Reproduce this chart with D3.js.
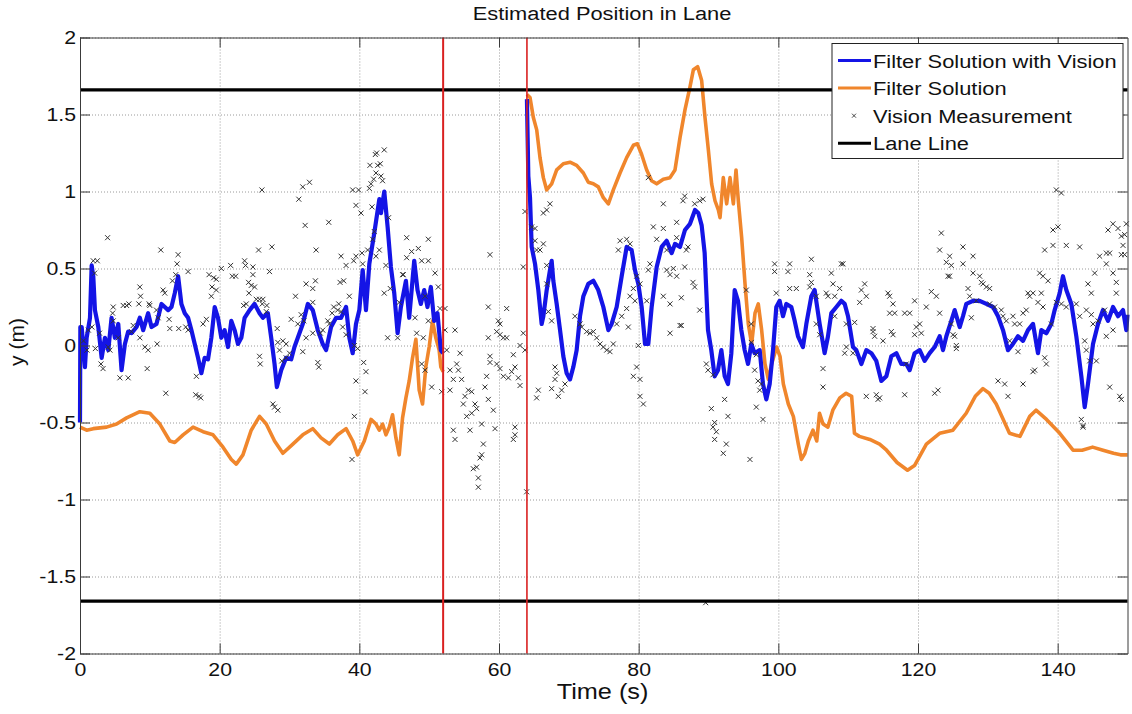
<!DOCTYPE html>
<html>
<head>
<meta charset="utf-8">
<script src="https://cdn.jsdelivr.net/npm/d3@7"></script>
<style>
  body { margin: 0; background: #fff; }
  text { font-family: "Liberation Sans", Arial, sans-serif; fill: #111; }
  .grid line { stroke: #9a9a9a; stroke-dasharray: 1,2; }
  .grid path { display: none; }
  .axis path, .axis line { stroke: #3a3a3a; }
</style>
</head>
<body>
<svg width="1132" height="714"></svg>
<script>
// ---- data: [time (s), y (m)] ----
var xTicks = [0, 20, 40, 60, 80, 100, 120, 140];
var yTicks = [-2, -1.5, -1, -0.5, 0, 0.5, 1, 1.5, 2];
var laneLines = [1.66, -1.66];
var outageTimes = [52, 64];
var legendLabels = ["Filter Solution with Vision", "Filter Solution", "Vision Measurement", "Lane Line"];

var blueSeg1 = [[0,-0.5],[0.05,0.12],[0.24,0.12],[0.71,-0.14],[0.95,0.05],[1.43,0.18],[1.67,0.52],[1.9,0.45],[2.14,0.23],[2.62,0.12],[3.1,-0.08],[3.57,0.05],[4.05,-0.03],[4.52,0.18],[5.0,0.05],[5.48,0.14],[5.95,-0.16],[6.43,0.01],[6.9,0.09],[7.38,0.08],[8.1,0.12],[8.57,0.18],[9.05,0.10],[9.76,0.21],[10.24,0.12],[10.95,0.14],[11.67,0.27],[12.14,0.25],[12.62,0.23],[13.1,0.25],[13.57,0.34],[14.05,0.45],[14.52,0.27],[15.0,0.21],[15.48,0.18],[15.95,0.10],[16.43,0.01],[16.9,-0.08],[17.38,-0.18],[17.86,-0.08],[18.33,-0.09],[18.81,0.05],[19.29,0.25],[19.76,0.18],[20.24,0.05],[20.71,0.10],[21.19,-0.01],[21.67,0.16],[22.14,0.10],[22.62,0.01],[23.1,0.05],[23.57,0.18],[24.29,0.23],[25.0,0.27],[25.71,0.21],[26.19,0.18],[26.9,0.21],[27.38,0.05],[27.86,-0.12],[28.19,-0.27],[28.81,-0.16],[29.52,-0.08],[30.24,-0.09],[30.71,-0.01],[31.19,0.05],[31.9,0.14],[32.62,0.27],[33.33,0.23],[34.05,0.10],[34.76,0.01],[35.24,-0.03],[35.95,0.12],[36.67,0.18],[37.38,0.18],[38.1,0.25],[38.57,0.05],[39.05,-0.05],[39.52,0.14],[40.0,0.23],[40.48,0.49],[40.95,0.23],[41.43,0.53],[42.14,0.73],[42.86,0.95],[43.1,0.86],[43.57,1.0],[44.05,0.77],[44.52,0.51],[45.0,0.34],[45.48,0.08],[45.95,0.25],[46.67,0.42],[47.14,0.18],[47.86,0.55],[48.33,0.36],[48.81,0.27],[49.29,0.36],[49.76,0.25],[50.24,0.38],[50.71,0.16],[51.19,0.21],[51.67,-0.03],[52.0,-0.05]];

var blueSeg2 = [[64.0,1.6],[64.1,1.35],[64.2,1.1],[64.44,0.96],[64.68,0.64],[65.16,0.53],[65.63,0.36],[66.11,0.14],[66.35,0.19],[66.83,0.36],[67.3,0.49],[67.54,0.55],[67.78,0.42],[68.26,0.27],[68.74,0.10],[69.21,-0.07],[69.69,-0.18],[70.17,-0.22],[70.64,-0.14],[71.12,-0.03],[71.6,0.19],[72.08,0.32],[72.79,0.40],[73.51,0.42],[74.22,0.36],[74.94,0.25],[75.66,0.10],[76.13,0.14],[76.85,0.25],[77.57,0.45],[78.28,0.64],[78.99,0.62],[79.47,0.49],[79.95,0.40],[80.43,0.25],[80.91,0.01],[81.38,0.01],[81.86,0.25],[82.58,0.51],[83.29,0.64],[84.01,0.68],[84.73,0.60],[85.2,0.66],[85.92,0.64],[86.63,0.75],[87.35,0.79],[88.07,0.88],[88.54,0.86],[89.02,0.78],[89.45,0.6],[89.93,0.10],[90.4,-0.03],[90.88,-0.20],[91.36,-0.16],[91.84,-0.03],[92.32,-0.20],[92.79,-0.25],[93.27,-0.05],[93.75,0.36],[94.22,0.29],[94.7,0.10],[95.18,-0.03],[95.66,-0.12],[96.13,0.01],[96.61,-0.05],[97.33,-0.03],[97.8,-0.25],[98.28,-0.35],[98.76,-0.25],[99.24,-0.03],[99.71,0.25],[100.19,0.29],[100.67,0.19],[101.15,0.27],[101.86,0.25],[102.34,0.16],[102.82,0.06],[103.53,-0.01],[104.01,0.14],[104.73,0.32],[105.2,0.36],[105.92,0.14],[106.63,-0.05],[107.11,0.06],[107.59,0.21],[108.31,0.25],[109.02,0.29],[109.5,0.27],[109.98,0.19],[110.69,-0.01],[111.17,-0.03],[111.89,-0.12],[112.6,-0.03],[113.32,-0.05],[114.03,-0.10],[114.75,-0.23],[115.47,-0.20],[116.18,-0.07],[116.9,-0.05],[117.61,-0.12],[118.33,-0.12],[118.81,-0.16],[119.52,-0.05],[120.24,-0.03],[120.95,-0.10],[121.67,-0.05],[122.39,-0.01],[123.1,0.06],[123.58,-0.03],[124.06,0.06],[124.77,0.16],[125.25,0.23],[125.97,0.12],[126.44,0.19],[126.92,0.27],[127.88,0.29],[128.83,0.29],[129.79,0.27],[130.74,0.25],[131.46,0.19],[132.17,0.10],[132.89,-0.03],[133.6,0.01],[134.32,0.06],[135.04,0.03],[135.75,0.10],[136.47,0.14],[137.18,-0.05],[137.66,0.10],[138.38,0.08],[139.09,0.14],[139.57,0.23],[140.29,0.34],[140.76,0.45],[141.24,0.36],[141.96,0.27],[142.67,0.06],[143.39,-0.20],[143.87,-0.40],[144.34,-0.25],[145.06,0.01],[145.78,0.14],[146.49,0.23],[147.21,0.16],[147.93,0.25],[148.65,0.19],[149.36,0.23],[149.83,0.10],[150,0.2]];

var orangeSeg1 = [[0,-0.53],[0.95,-0.55],[1.9,-0.54],[3.81,-0.53],[5.24,-0.51],[6.67,-0.47],[8.57,-0.43],[10,-0.44],[11.43,-0.51],[12.86,-0.62],[13.57,-0.63],[14.76,-0.58],[16.19,-0.53],[17.62,-0.56],[19.05,-0.58],[20.48,-0.66],[21.67,-0.74],[22.38,-0.77],[23.33,-0.71],[24.52,-0.55],[25.71,-0.46],[26.67,-0.51],[27.86,-0.62],[29.05,-0.70],[30.48,-0.64],[31.9,-0.58],[33.33,-0.54],[34.52,-0.60],[35.71,-0.64],[36.9,-0.58],[38.1,-0.54],[39.05,-0.62],[39.76,-0.71],[40.71,-0.62],[41.67,-0.48],[42.38,-0.51],[42.86,-0.55],[43.33,-0.51],[43.81,-0.58],[44.29,-0.53],[44.76,-0.45],[45.24,-0.60],[45.71,-0.71],[46.19,-0.47],[46.67,-0.34],[47.14,-0.23],[47.62,-0.08],[48.1,0.04],[48.57,-0.29],[49.05,-0.38],[49.52,-0.14],[50,-0.01],[50.48,0.16],[50.95,0.05],[51.43,-0.03],[51.67,-0.14],[52,-0.17]];

var orangeSeg2 = [[64.0,1.63],[64.44,1.61],[64.92,1.48],[65.4,1.40],[65.87,1.22],[66.35,1.09],[66.83,1.01],[67.54,1.05],[68.26,1.14],[69.21,1.18],[70.17,1.19],[71.12,1.17],[72.08,1.12],[72.79,1.06],[73.51,1.05],[74.22,1.03],[74.94,0.96],[75.66,0.92],[76.37,1.01],[77.33,1.12],[78.28,1.22],[79.24,1.30],[79.81,1.31],[80.43,1.24],[81.15,1.14],[81.86,1.07],[82.58,1.05],[83.53,1.08],[84.49,1.09],[85.2,1.14],[85.92,1.35],[86.63,1.53],[87.35,1.68],[87.83,1.79],[88.45,1.81],[89.02,1.72],[89.5,1.48],[89.98,1.27],[90.45,1.05],[90.93,0.94],[91.41,0.88],[91.65,0.83],[92.12,1.09],[92.6,0.92],[93.08,1.09],[93.56,0.92],[93.94,1.14],[94.27,0.94],[94.75,0.70],[95.23,0.40],[95.7,0.14],[96.18,0.01],[96.66,0.21],[97.13,0.27],[97.61,0.10],[98.09,-0.12],[98.57,-0.22],[99.04,-0.12],[99.76,-0.01],[100.24,-0.07],[100.72,-0.25],[101.43,-0.38],[102.15,-0.46],[102.86,-0.64],[103.3,-0.74],[103.8,-0.70],[104.3,-0.62],[104.96,-0.55],[105.5,-0.62],[105.9,-0.44],[106.4,-0.51],[107.1,-0.53],[107.8,-0.42],[108.8,-0.34],[109.7,-0.31],[110.5,-0.33],[110.9,-0.57],[111.6,-0.59],[113.1,-0.61],[114.5,-0.64],[115.5,-0.68],[117,-0.76],[118.5,-0.81],[119.5,-0.78],[121.2,-0.64],[123.1,-0.57],[125,-0.55],[126.9,-0.44],[128.2,-0.33],[129.3,-0.28],[130.2,-0.31],[131.2,-0.38],[133.1,-0.57],[134.6,-0.59],[136,-0.46],[136.9,-0.42],[138.4,-0.48],[140.3,-0.57],[142.2,-0.68],[143.5,-0.68],[145,-0.66],[146.5,-0.68],[148,-0.70],[149,-0.71],[150,-0.71]];

var visionPts = [[0.5,0.03],[1.0,-0.03],[1.2,0.1],[1.7,0.12],[2.2,-0.02],[2.8,0.08],[3.3,-0.15],[3.0,-0.12],[1.9,0.55],[2.1,0.47],[2.48,0.55],[4.29,-0.03],[4.05,-0.01],[5.71,-0.21],[6.9,-0.21],[5.48,0.05],
[3.95,0.70],[11.57,0.62],[14.05,0.59],[13.9,0.53],[13.24,0.42],[15.48,0.48],[13.71,0.46],[8.57,0.38],[8.67,0.32],[8.43,0.27],[9.9,0.27],[10.0,0.26],[11.9,0.36],[12.14,0.34],[10.95,0.23],[12.76,0.17],[11.19,0.18],[12.86,0.11],[14.14,0.11],[15.14,0.12],[15.48,0.10],[4.67,0.21],[4.76,0.25],[4.76,0.16],[6.19,0.26],[6.67,0.26],[7.0,0.27],[7.62,0.13],[7.38,0.09],[8.57,0.05],[9.29,-0.01],[9.76,-0.03],[9.62,-0.15],[11.05,0.01],[12.29,-0.31],[16.57,-0.32],[17.05,-0.33],[17.29,-0.34],[16.67,-0.20],[17.62,0.14],[18.1,0.17],[18.48,0.46],[19.14,0.44],[19.52,0.43],[18.9,0.38],[19.52,0.36],[18.81,0.32],[20.24,0.50],[21.57,0.52],[21.81,0.45],[22.29,0.45],[23.57,0.55],[23.71,0.52],[24.76,0.51],[24.76,0.46],[24.14,0.41],[24.52,0.39],[24.19,0.34],[23.81,0.27],[23.43,0.26],[25.57,0.62],[26.05,1.01],[27.14,0.48],[27.48,0.64],[25.0,0.38],[25.24,0.30],[25.71,0.30],[26.19,0.30],[26.1,0.27],[26.76,0.26],[26.67,0.22],[28.24,0.11],[25.71,-0.07],[25.81,-0.12],[28.33,0.02],[28.57,-0.03],[29.05,0.03],[29.52,0.01],[27.62,-0.38],[27.86,-0.40],[28.33,-0.42],[28.9,-0.10],[29.52,-0.08],[30.0,-0.05],[30.86,0.32],[30.24,0.17],[31.19,0.14],[31.67,0.20],[32.05,0.16],[32.38,0.40],[33.33,0.37],[33.71,0.42],[33.81,0.62],[32.24,0.78],[31.33,0.95],[31.9,1.03],[32.86,1.06],[35.62,0.80],[33.33,0.28],[34.05,-0.11],[34.19,-0.14],[31.9,-0.04],[32.38,0.05],[33.33,0.08],[34.43,0.08],[34.76,0.10],[35.48,0.16],[36.1,0.21],[36.33,0.25],[36.9,0.23],[37.05,0.27],[37.38,0.22],[37.62,0.12],[38.1,0.07],[35.71,0.14],[37.24,0.41],[37.76,0.42],[37.38,0.58],[38.1,0.52],[38.57,0.32],[39.29,0.0],[39.76,-0.02],[39.19,0.55],[39.52,0.58],[40.48,0.53],[40.38,0.60],[41.19,0.62],[39.05,1.01],[39.52,0.91],[39.9,1.01],[40.24,0.86],[41.67,1.05],[41.43,1.02],[42.05,1.08],[42.38,1.12],[42.62,1.17],[43.0,1.18],[43.1,1.10],[43.33,1.07],[42.29,1.24],[42.48,1.25],[43.57,1.27],[41.52,1.17],[41.81,0.90],[42.14,0.74],[41.9,0.69],[42.38,0.58],[42.86,0.62],[43.81,0.52],[44.19,0.83],[43.57,0.34],[44.05,0.05],[44.43,0.37],[45.71,0.28],[46.19,0.46],[40.62,-0.11],[40.95,-0.17],[40.81,-0.30],[39.52,-0.23],[39.29,-0.46],[38.95,-0.74],[45.48,0.05],
[46.78,0.70],[49.88,0.69],[48.45,0.63],[47.49,0.61],[46.3,0.46],[46.78,0.57],[48.93,0.55],[49.88,0.55],[50.84,0.47],[51.31,0.38],[51.55,0.24],[52.27,0.24],[49.4,0.32],[49.88,0.16],[47.97,0.18],[48.21,0.08],[49.16,0.05],[48.93,-0.12],[49.4,-0.16],[50.36,-0.27],[52.27,0.10],[53.7,0.10],[52.51,-0.03],[52.98,-0.16],[53.46,-0.22],[52.98,-0.29],[51.79,-0.30],[53.94,-0.12],[54.42,-0.05],[54.18,-0.16],[54.65,-0.22],[55.13,-0.33],[54.89,-0.38],[55.61,-0.29],[56.09,-0.30],[56.56,-0.38],[56.8,-0.41],[56.09,-0.44],[55.37,-0.46],[55.85,-0.55],[53.46,-0.55],[53.7,-0.61],[57.52,-0.51],[57.76,-0.64],[57.52,-0.71],[57.28,-0.73],[56.8,-0.79],[56.32,-0.80],[57.04,-0.86],[57.04,-0.92],[58.23,-0.20],[57.99,-0.27],[58.47,-0.35],[59.19,-0.42],[59.43,-0.54],[58.71,-0.07],[58.47,0.05],[58.47,0.25],[58.71,0.59],[59.9,0.16],[60.14,0.14],[59.67,0.09],[60.14,0.07],[60.62,0.05],[61.1,0.05],[61.1,0.24],[59.67,-0.12],[58.71,-0.11],[60.14,-0.15],[60.62,-0.20],[61.34,-0.21],[61.81,-0.17],[62.29,-0.14],[62.77,-0.21],[63.01,-0.26],[62.05,-0.06],[63.01,0.0],[63.48,0.08],[63.72,-0.03],[62.29,-0.53],[62.29,-0.58],[62.05,-0.61],[63.96,-0.95],[63.72,0.87],[63.48,0.51],[64.68,0.77],[65.16,0.76],[65.16,0.68],[65.39,0.62],[65.87,0.62],[66.35,0.66],[66.83,0.88],[66.35,0.86],[67.3,0.92],[66.83,0.52],[66.83,0.40],[67.54,0.16],[68.02,-0.14],[68.26,-0.18],[68.02,-0.22],[68.97,-0.29],[69.45,-0.25],[68.5,-0.33],[67.54,-0.28],[65.63,-0.29],[65.39,-0.34],[67.06,0.22],[70.88,0.19],[71.6,0.14],[71.84,0.12],[72.55,0.09],[73.03,0.08],[73.51,0.09],[73.99,0.05],[74.46,0.01],[74.94,-0.01],[75.42,-0.03],[75.89,-0.04],[76.37,0.01],[76.85,0.14],[77.57,0.19],[78.28,0.24],[78.76,0.32],[79.24,0.37],[79.71,0.45],[80.19,0.40],[79.47,0.29],[78.76,0.66],[77.33,0.68],[78.28,0.69],[77.09,0.62],[78.52,0.12],[79.24,-0.20],[80.19,-0.22],[79.71,-0.14],[80.19,-0.33],[80.67,-0.38],[81.15,0.29],[79.95,0.0],[81.38,0.49],[81.62,0.53],[82.1,0.77],[82.58,0.69],[81.38,1.09],[83.53,0.92],[83.53,0.76],[84.01,0.62],[85.44,0.80],[85.44,0.70],[85.44,0.45],[84.49,0.46],[83.53,0.32],[84.49,0.27],[84.01,0.49],[84.96,0.50],[85.92,0.13],[84.49,0.08],[92.12,-0.70],[95.94,-0.74],[89.6,-1.67],
[86.59,0.97],[86.35,0.94],[88.02,0.92],[88.74,0.94],[89.21,0.95],[87.78,0.41],[88.02,0.38],[86.11,0.31],[86.11,0.13],[86.83,0.62],[87.06,0.64],[86.59,0.51],[88.74,0.23],[89.69,-0.12],[89.93,-0.16],[90.64,-0.19],[90.41,-0.41],[90.88,-0.50],[90.64,-0.53],[91.12,-0.56],[90.88,-0.61],[92.55,-0.64],[92.31,-0.35],[92.79,-0.46],[95.42,0.36],[96.13,0.14],[96.13,0.02],[96.85,-0.06],[96.61,-0.16],[97.09,-0.23],[97.33,-0.29],[96.85,-0.40],[97.8,-0.48],[97.57,-0.25],[99.47,0.53],[99.47,0.48],[99.71,0.34],[101.62,0.53],[101.38,0.48],[101.62,0.37],[102.58,0.37],[104.73,0.56],[104.49,0.46],[104.73,0.41],[104.49,0.38],[105.44,0.32],[105.44,0.14],[105.92,0.07],[106.4,-0.15],[106.4,-0.27],[106.87,0.34],[107.11,0.32],[107.59,0.47],[107.83,0.40],[108.07,0.32],[108.78,0.37],[109.02,0.53],[109.26,0.53],[108.07,0.19],[109.74,0.14],[109.5,-0.05],[109.74,-0.01],[110.69,-0.05],[110.93,0.15],[111.65,0.28],[111.89,0.36],[112.36,0.40],[112.6,0.32],[112.6,-0.33],[114.03,-0.32],[114.27,-0.35],[114.51,-0.34],[113.56,0.11],[113.56,0.09],[113.79,0.06],[114.99,0.03],[115.7,0.34],[115.94,0.32],[116.42,0.27],[116.18,0.09],[116.42,0.07],[115.94,0.21],[116.66,0.21],[118.09,0.21],[118.81,0.21],[118.09,-0.32],[118.33,-0.12],[119.52,0.29],[119.76,0.12],[119.52,0.07],[120.24,0.14],[120.48,0.08],[121.19,0.25],[121.91,0.35],[122.63,0.32],[123.1,0.21],[123.34,0.73],[123.1,0.62],[124.06,0.54],[124.53,0.58],[124.77,0.52],[124.53,0.45],[124.3,0.45],[124.77,0.14],[125.01,0.07],[125.25,0.06],[125.49,0.0],[125.49,-0.02],[122.86,-0.29],[122.39,-0.31],[126.44,0.64],[126.44,0.53],[127.88,0.58],[127.88,0.47],[127.16,0.37],[127.4,0.32],[127.64,0.18],[128.35,0.29],[128.83,0.45],[129.07,0.41],[129.31,0.40],[129.79,0.38],[130.26,0.37],[130.26,0.27],[130.98,0.25],[131.93,0.23],[132.17,0.19],[132.65,0.16],[133.13,0.03],[133.6,0.19],[133.84,0.14],[134.56,0.14],[135.04,0.21],[134.32,-0.04],[135.51,0.23],[135.75,0.34],[135.99,0.32],[136.47,0.34],[137.42,0.47],[137.9,0.45],[138.62,0.42],[137.66,0.34],[137.18,0.28],[137.9,0.25],[138.14,-0.08],[138.38,-0.12],[136.71,-0.16],[136.47,-0.17],[135.04,-0.25],[132.89,-0.33],[131.46,-0.23],[132.41,-0.25],[139.09,0.14],[139.81,1.01],[140.53,0.99],[139.33,0.75],[140.05,0.77],[138.14,0.62],[139.33,0.65],[141.24,0.65],[143.15,0.64],[139.81,0.28],[140.53,0.27],[141.24,0.25],[142.67,0.27],[143.15,0.19],[144.11,0.23],[144.82,0.20],[144.34,0.40],[144.82,0.34],[145.3,0.47],[146.01,0.58],[146.97,0.60],[146.97,0.53],[147.45,0.60],[147.92,0.47],[148.4,0.41],[148.4,0.34],[147.21,0.75],[147.92,0.79],[149.12,0.71],[149.59,0.72],[149.36,0.65],[148.64,0.76],[149.83,0.79],[149.12,0.59],[149.59,0.59],[146.73,0.23],[146.97,0.06],[147.92,0.10],[144.58,-0.10],[143.87,0.03],[144.11,-0.03],[145.54,-0.10],[143.39,-0.48],[143.63,-0.53],[143.63,-0.52],[147.45,-0.27],[148.88,-0.33],[149.12,-0.35],[145.06,0.14],[145.78,0.16]];

var blueColor = "#1414e6", orangeColor = "#f0862c", redColor = "#d92020";
var stretch = 1.15; // the picture is wider than its text, so glyphs are stretched sideways

function drawChart () {
  var svg = d3.select("svg"),
  margin = {top: 37.5, right: 4.5, bottom: 60.5, left: 80},
  width = svg.attr("width") - margin.left - margin.right,
  height = svg.attr("height") - margin.top - margin.bottom;

  var x = d3.scaleLinear().domain([0, 150]).range([0, width]),
  y = d3.scaleLinear().domain([-2, 2]).range([height, 0]);

  var g = svg.append("g")
  .attr("transform", "translate(" + margin.left + "," + margin.top + ")");

  // dotted grid
  g.append("g").attr("class", "grid")
  .attr("transform", "translate(0," + height + ")")
  .call(d3.axisBottom(x).tickValues(xTicks).tickSize(-height).tickFormat(""));
  g.append("g").attr("class", "grid")
  .call(d3.axisLeft(y).tickValues(yTicks).tickSize(-width).tickFormat(""));

  var line = d3.line()
  .x(function(d) { return x(d[0]); })
  .y(function(d) { return y(d[1]); });

  [orangeSeg1, orangeSeg2].forEach(function (seg) {
    g.append("path").attr("d", line(seg))
    .attr("fill", "none").attr("stroke", orangeColor).attr("stroke-width", 3.6)
    .attr("stroke-linejoin", "round");
  });
  [blueSeg1, blueSeg2].forEach(function (seg) {
    g.append("path").attr("d", line(seg))
    .attr("fill", "none").attr("stroke", blueColor).attr("stroke-width", 4.2)
    .attr("stroke-linejoin", "round");
  });

  // vision measurements as small x marks
  g.append("g").selectAll("path")
  .data(visionPts)
  .enter().append("path")
  .attr("transform", function(d) { return "translate(" + x(d[0]) + "," + y(d[1]) + ")"; })
  .attr("d", "M-2.5,-2.5L2.5,2.5M-2.5,2.5L2.5,-2.5")
  .attr("stroke", "#333").attr("stroke-width", 1).attr("fill", "none");

  g.selectAll(".lane")
  .data(laneLines)
  .enter().append("line")
  .attr("x1", 0).attr("x2", width)
  .attr("y1", function(d) { return y(d); }).attr("y2", function(d) { return y(d); })
  .attr("stroke", "#000").attr("stroke-width", 3.2);

  g.selectAll(".outage")
  .data(outageTimes)
  .enter().append("line")
  .attr("x1", function(d) { return x(d); }).attr("x2", function(d) { return x(d); })
  .attr("y1", 0).attr("y2", height)
  .attr("stroke", redColor).attr("stroke-width", function(d, i) { return i == 0 ? 2 : 1.6; });

  // axes, MATLAB style: ticks point inward on all four sides
  var fmt = function(d) { return String(d); };
  g.append("g").attr("class", "axis")
  .attr("transform", "translate(0," + height + ")")
  .call(d3.axisBottom(x).tickValues(xTicks).tickSizeInner(-10).tickSizeOuter(0).tickPadding(9).tickFormat(fmt));
  g.append("g").attr("class", "axis")
  .call(d3.axisLeft(y).tickValues(yTicks).tickSizeInner(-10).tickSizeOuter(0).tickPadding(3.5).tickFormat(fmt));
  g.append("g").attr("class", "axis")
  .call(d3.axisTop(x).tickValues(xTicks).tickSizeInner(-10).tickSizeOuter(0).tickFormat(""));
  g.append("g").attr("class", "axis")
  .attr("transform", "translate(" + width + ",0)")
  .call(d3.axisRight(y).tickValues(yTicks).tickSizeInner(-10).tickSizeOuter(0).tickFormat(""));

  g.selectAll(".axis text")
  .style("font-size", "18.5px")
  .attr("fill", "#111")
  .attr("transform", "scale(" + stretch + ",1)");

  svg.append("text")
  .attr("transform", "translate(602,20) scale(" + stretch + ",1)")
  .attr("text-anchor", "middle")
  .style("font-size", "19px")
  .text("Estimated Position in Lane");

  svg.append("text")
  .attr("transform", "translate(602.5,699) scale(" + stretch + ",1)")
  .attr("text-anchor", "middle")
  .style("font-size", "22px")
  .text("Time (s)");

  svg.append("text")
  .attr("transform", "translate(23.5,342) rotate(-90)")
  .attr("text-anchor", "middle")
  .style("font-size", "21px")
  .text("y (m)");

  plotLegend(svg);
}


function plotLegend (svg) {
  var lg = svg.append("g").attr("transform", "translate(832,43.5)");
  lg.append("rect")
  .attr("width", 291).attr("height", 115)
  .attr("fill", "#fff").attr("stroke", "#222").attr("stroke-width", 1);

  var styles = [
    {type: "line", color: blueColor},
    {type: "line", color: orangeColor},
    {type: "mark", color: "#333"},
    {type: "line", color: "#000"}
  ];

  var row = lg.selectAll(".row")
  .data(legendLabels)
  .enter().append("g")
  .attr("transform", function(d, i) { return "translate(0," + (17 + i * 27.6) + ")"; });

  row.each(function (d, i) {
    var r = d3.select(this);
    if (styles[i].type == "line") {
      r.append("line").attr("x1", 6).attr("x2", 39).attr("y1", 0).attr("y2", 0)
      .attr("stroke", styles[i].color).attr("stroke-width", 3);
    } else {
      r.append("path").attr("d", "M20,-2L24,2M20,2L24,-2")
      .attr("stroke", styles[i].color).attr("stroke-width", 0.9);
    }
  });

  row.append("text")
  .attr("transform", "translate(41,7) scale(" + stretch + ",1)")
  .style("font-size", "19px")
  .text(function(d) { return d; });
}

drawChart();
</script>
</body>
</html>
